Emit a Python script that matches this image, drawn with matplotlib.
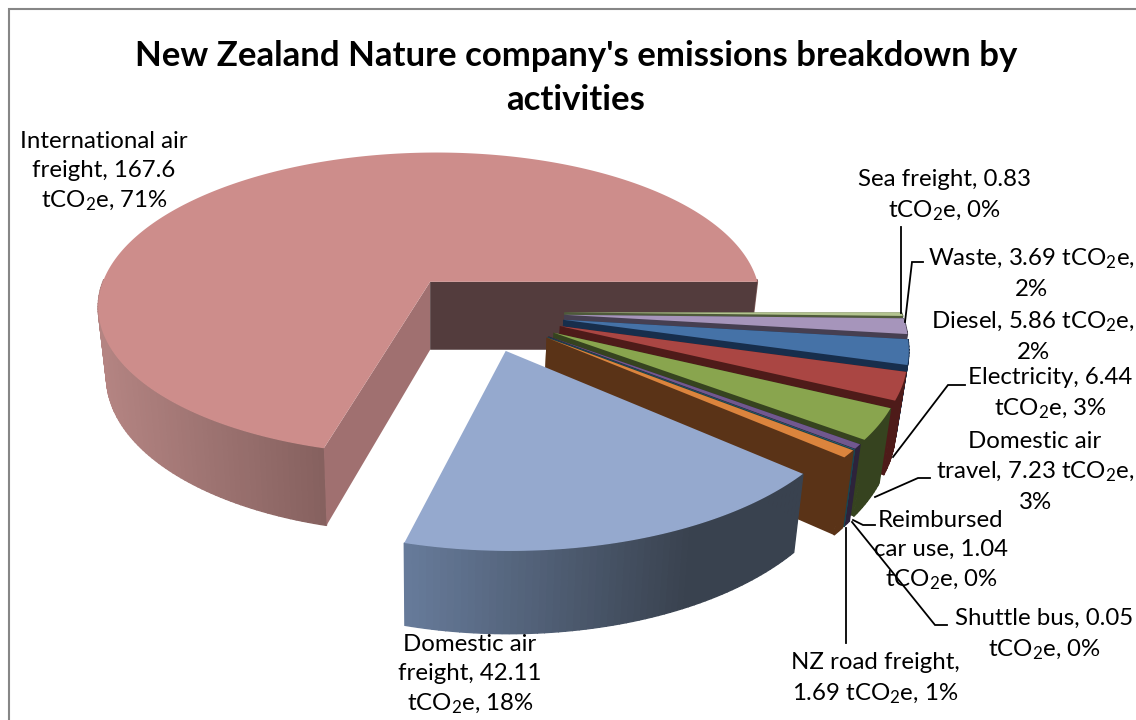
import numpy as np
import matplotlib
matplotlib.use("Agg")
import matplotlib.pyplot as plt
from matplotlib.patches import Polygon

plt.rcParams['font.family'] = ['Lato', 'DejaVu Sans']
plt.rcParams['mathtext.default'] = 'regular'

# ---------- data ----------
categories = ["International air freight", "Sea freight", "Waste", "Diesel", "Electricity",
              "Domestic air travel", "Reimbursed car use", "Shuttle bus", "NZ road freight",
              "Domestic air freight"]
values = [167.6, 0.83, 3.69, 5.86, 6.44, 7.23, 1.04, 0.05, 1.69, 42.11]
percents = [71, 0, 2, 2, 3, 3, 0, 0, 1, 18]
label_text = [
    "International air\nfreight, {v}\ntCO$_2$e, {p}%",
    "Sea freight, {v}\ntCO$_2$e, {p}%",
    "Waste, {v} tCO$_2$e,\n{p}%",
    "Diesel, {v} tCO$_2$e,\n{p}%",
    "Electricity, {v}\ntCO$_2$e, {p}%",
    "Domestic air\ntravel, {v} tCO$_2$e,\n{p}%",
    "Reimbursed\ncar use, {v}\ntCO$_2$e, {p}%",
    "Shuttle bus, {v}\ntCO$_2$e, {p}%",
    "NZ road freight,\n{v} tCO$_2$e, {p}%",
    "Domestic air\nfreight, {v}\ntCO$_2$e, {p}%",
]
title = "New Zealand Nature company's emissions breakdown by\nactivities"

# ---------- style ----------
top_colors = ["#CD8D8B", "#B3C48F", "#A695BB", "#4572A7", "#AA4643", "#89A54E",
              "#71588F", "#4198AF", "#DB843D", "#95A9CE"]
cut_colors = ["#533C3D", "#4E5A3A", "#463F51", "#172E4C", "#4E1B19", "#36431F",
              "#2D233B", "#1A4450", "#5A3317", "#3A4252"]
start_cut_colors = {0: "#A07070"}
no_cut_faces = {9}
side_gradient = {0: ("#B58583", "#84605E", 95, 330), 9: ("#667A99", "#39424F", 410, 690)}
label_pos = [(104, 172), (944, 196), (1031, 273), (1033, 336), (1050, 394),
             (1035, 472), (941, 551), (1044, 635), (875, 679), (470, 675)]
leaders = [((901, 227), (901, 313)),
           ((923, 262), (912, 262), (905, 322)),
           ((965, 385), (948, 385), (893, 457)),
           ((930, 478), (918, 478), (875, 497)),
           ((875, 525), (863, 525), (853, 520)),
           ((947, 625), (935, 625), (852, 522)),
           ((846, 528), (846, 643))]

CX, CY, RX, RY, PERSP = 480, 312, 337, 157, 0.15
EXPLODE_X, EXPLODE_Y = 0.25, 0.25
START_ANGLE = 255.07


def project(X, Y):
    w = 1 / (1 - PERSP * Y)
    return CX + RX * X * w, CY + RY * Y * w


def drop(x, y):
    return x + (430 - x) * 0.025, y + 68 + 0.055 * (y - 282)


def hex_rgb(c):
    return np.array(matplotlib.colors.to_rgb(c))


fig = plt.figure(figsize=(11.36, 7.2), dpi=100)
ax = fig.add_axes([0, 0, 1, 1])
ax.set_xlim(0, 1136)
ax.set_ylim(720, 0)
ax.axis('off')
ax.plot([8.5, 8.5, 1136], [720, 9, 9], color="#868686", lw=1.5, solid_joinstyle='miter')

total = sum(values)
angle = START_ANGLE
for i, v in enumerate(values):
    span = v / total * 360
    a0, a1 = angle, angle - span
    angle = a1
    mid = np.radians((a0 + a1) / 2)
    ox, oy = EXPLODE_X * np.cos(mid), -EXPLODE_Y * np.sin(mid)
    th = np.radians(np.linspace(a0, a1, max(int(span), 2) + 1))
    xs, ys = project(ox + np.cos(th), oy - np.sin(th))
    bx, by = drop(xs, ys)
    ax_, ay_ = project(ox, oy)
    abx, aby = drop(ax_, ay_)

    # outer wall, drawn strip by strip for the shading; only the front half shows
    for k in range(len(th) - 1):
        if np.sin((th[k] + th[k + 1]) / 2) > 0.02:
            continue
        if i in side_gradient:
            c0, c1, x0, x1 = side_gradient[i]
            t = np.clip(((xs[k] + xs[k + 1]) / 2 - x0) / (x1 - x0), 0, 1)
            col = hex_rgb(c0) * (1 - t) + hex_rgb(c1) * t
        else:
            col = cut_colors[i]
        ax.add_patch(Polygon([(xs[k], ys[k]), (xs[k + 1], ys[k + 1]),
                              (bx[k + 1], by[k + 1]), (bx[k], by[k])],
                             fc=col, ec=col, lw=1.0))
    # two cut faces
    if i not in no_cut_faces:
        ax.add_patch(Polygon([(ax_, ay_), (xs[0], ys[0]), (bx[0], by[0]), (abx, aby)],
                             fc=start_cut_colors.get(i, cut_colors[i]), ec='none'))
        ax.add_patch(Polygon([(ax_, ay_), (xs[-1], ys[-1]), (bx[-1], by[-1]), (abx, aby)],
                             fc=cut_colors[i], ec='none'))
    # top
    ax.add_patch(Polygon(np.column_stack([np.r_[ax_, xs], np.r_[ay_, ys]]),
                         fc=top_colors[i], ec='none'))

for pts in leaders:
    p = np.array(pts)
    ax.plot(p[:, 0], p[:, 1], color="black", lw=1.3, solid_joinstyle='miter', zorder=5)

for tmpl, v, p, (x, y) in zip(label_text, values, percents, label_pos):
    ax.text(x, y, tmpl.format(v=v, p=p), ha='center', va='center', fontsize=17.3,
            linespacing=1.47, color="black", zorder=6)

ax.text(576, 78, title, ha='center', va='center', fontsize=25, fontweight='bold',
        linespacing=1.45, color="black")

fig.savefig("out.png", dpi=100)
